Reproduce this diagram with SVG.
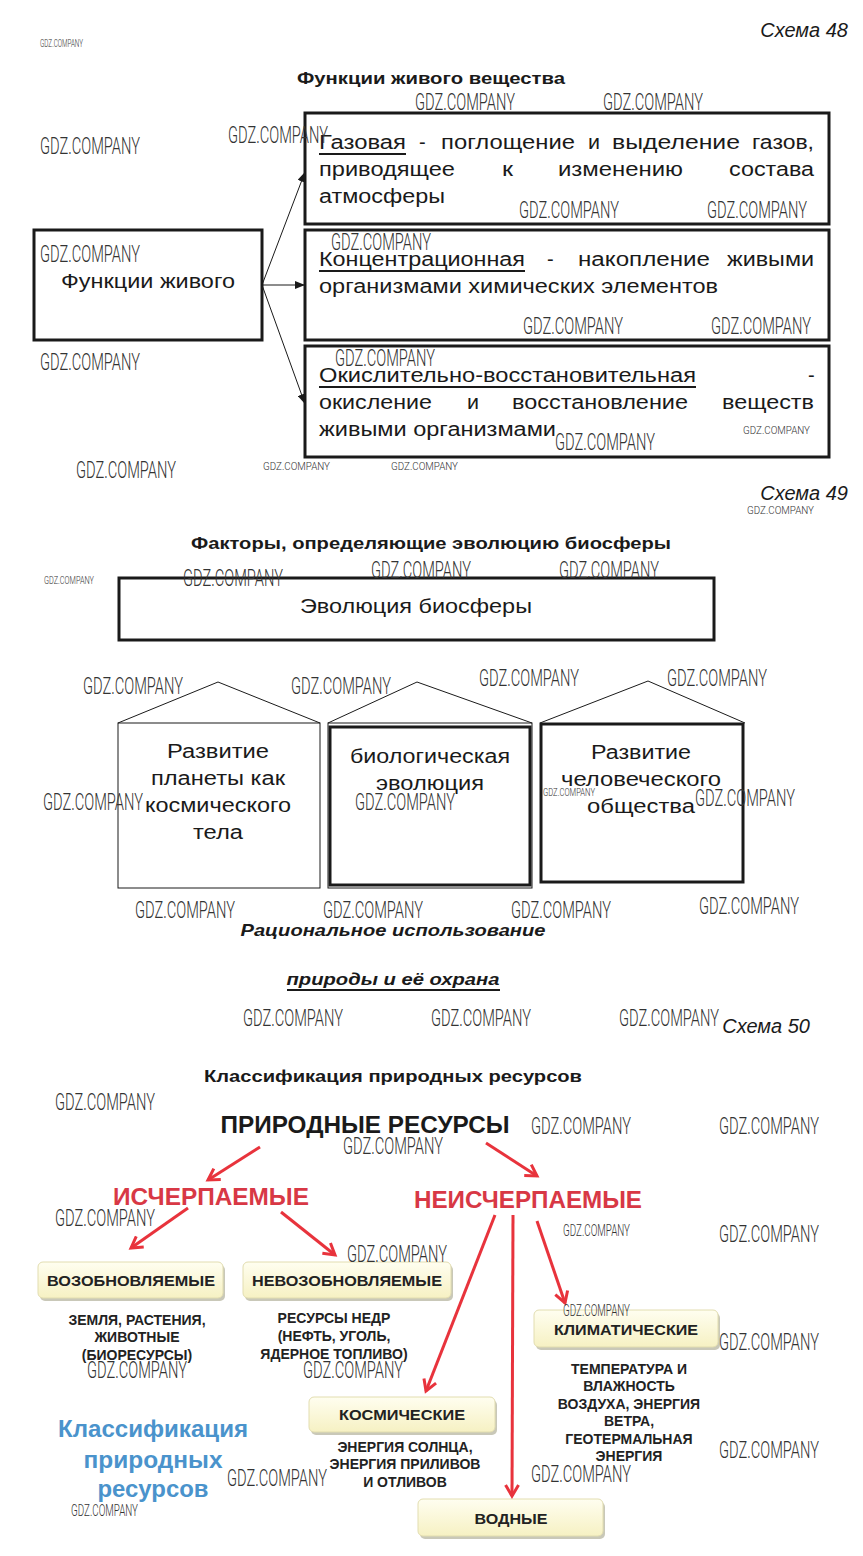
<svg xmlns="http://www.w3.org/2000/svg" width="863" height="1556" viewBox="0 0 863 1556">
<style>
.bg{fill:#fff}
.t{font-family:"Liberation Sans",Arial,sans-serif;fill:#1a1a1a}
.bx{font-size:20px}
.ttl{font-size:17px;font-weight:bold}
.sch{font-size:20px;font-style:italic}
.box{fill:none;stroke:#1a1a1a;stroke-width:3}
.thin{fill:none;stroke:#1a1a1a;stroke-width:1}
.ul{stroke:#1a1a1a;stroke-width:2}
.wm{font-family:Roboto,"Liberation Sans",sans-serif;font-weight:300;fill:#333}
.wl{font-size:24px}
.wm2{font-size:16px}
.ws{font-size:10px}
.red{font-family:"Liberation Sans",Arial,sans-serif;font-weight:bold;font-size:23px;fill:#d83845}
.rl{stroke:#e8333c;stroke-width:3;fill:none}
.yb{fill:url(#yg);stroke:#e2ddb0;stroke-width:1}
.ys{fill:#c9c8b8}
.yt{font-family:"Liberation Sans",Arial,sans-serif;font-weight:bold;font-size:15px;fill:#222}
.dt{font-family:"Liberation Sans",Arial,sans-serif;font-weight:bold;font-size:14px;fill:#222}
.blue{font-family:"Liberation Sans",Arial,sans-serif;font-weight:bold;font-size:23px;fill:#4a93cc}
</style>
<defs>
<marker id="ah" markerWidth="10" markerHeight="8" refX="10" refY="4" orient="auto" markerUnits="userSpaceOnUse"><path d="M0,0 L10,4 L0,8 z" fill="#1a1a1a"/></marker>
<marker id="rh" markerWidth="16" markerHeight="16" refX="13" refY="8" orient="auto" markerUnits="userSpaceOnUse"><path d="M2,1.5 L13,8 L2,14.5" fill="none" stroke="#e8333c" stroke-width="3"/></marker>
<linearGradient id="yg" x1="0" y1="0" x2="0" y2="1"><stop offset="0" stop-color="#fffef0"/><stop offset="1" stop-color="#f6f1c3"/></linearGradient>
</defs>
<rect class="bg" x="0" y="0" width="863" height="1556"/>

<!-- ===== Schema 48 ===== -->
<text class="t sch" x="848" y="37" text-anchor="end">Схема 48</text>
<text class="t ttl" x="431" y="84" text-anchor="middle" textLength="268" lengthAdjust="spacingAndGlyphs">Функции живого вещества</text>

<g id="n-func">
<rect class="box" x="34" y="230" width="228" height="110"/>
<text class="t bx" x="148" y="288" text-anchor="middle" textLength="174" lengthAdjust="spacingAndGlyphs">Функции живого</text>
</g>

<g id="n-gas">
<rect class="box" x="305" y="113" width="524" height="111"/>
<text class="t bx" x="319" y="149" textLength="87" lengthAdjust="spacingAndGlyphs">Газовая</text>
<line class="ul" x1="319" y1="154" x2="406" y2="154"/>
<text class="t bx" x="419" y="149">-</text>
<text class="t bx" x="441" y="149" textLength="134" lengthAdjust="spacingAndGlyphs">поглощение</text>
<text class="t bx" x="588" y="149" textLength="12" lengthAdjust="spacingAndGlyphs">и</text>
<text class="t bx" x="612" y="149" textLength="128" lengthAdjust="spacingAndGlyphs">выделение</text>
<text class="t bx" x="752" y="149" textLength="62" lengthAdjust="spacingAndGlyphs">газов,</text>
<text class="t bx" x="319" y="176" textLength="136" lengthAdjust="spacingAndGlyphs">приводящее</text>
<text class="t bx" x="502" y="176" textLength="11" lengthAdjust="spacingAndGlyphs">к</text>
<text class="t bx" x="558" y="176" textLength="125" lengthAdjust="spacingAndGlyphs">изменению</text>
<text class="t bx" x="729" y="176" textLength="85" lengthAdjust="spacingAndGlyphs">состава</text>
<text class="t bx" x="319" y="203" textLength="126" lengthAdjust="spacingAndGlyphs">атмосферы</text>
</g>

<g id="n-conc">
<rect class="box" x="305" y="230" width="524" height="110"/>
<text class="t bx" x="319" y="266" textLength="206" lengthAdjust="spacingAndGlyphs">Концентрационная</text>
<line class="ul" x1="319" y1="271" x2="525" y2="271"/>
<text class="t bx" x="547" y="266">-</text>
<text class="t bx" x="578" y="266" textLength="132" lengthAdjust="spacingAndGlyphs">накопление</text>
<text class="t bx" x="727" y="266" textLength="87" lengthAdjust="spacingAndGlyphs">живыми</text>
<text class="t bx" x="319" y="293" textLength="399" lengthAdjust="spacingAndGlyphs">организмами химических элементов</text>
</g>

<g id="n-redox">
<rect class="box" x="305" y="346" width="524" height="111"/>
<text class="t bx" x="319" y="382" textLength="377" lengthAdjust="spacingAndGlyphs">Окислительно-восстановительная</text>
<line class="ul" x1="319" y1="387" x2="696" y2="387"/>
<text class="t bx" x="808" y="382">-</text>
<text class="t bx" x="319" y="409" textLength="113" lengthAdjust="spacingAndGlyphs">окисление</text>
<text class="t bx" x="467" y="409" textLength="12" lengthAdjust="spacingAndGlyphs">и</text>
<text class="t bx" x="512" y="409" textLength="176" lengthAdjust="spacingAndGlyphs">восстановление</text>
<text class="t bx" x="722" y="409" textLength="92" lengthAdjust="spacingAndGlyphs">веществ</text>
<text class="t bx" x="319" y="436" textLength="237" lengthAdjust="spacingAndGlyphs">живыми организмами</text>
</g>

<g id="connectors-48">
<line class="thin" x1="262" y1="285" x2="305" y2="172" marker-end="url(#ah)"/>
<line class="thin" x1="262" y1="285" x2="305" y2="285" marker-end="url(#ah)"/>
<line class="thin" x1="262" y1="285" x2="305" y2="404" marker-end="url(#ah)"/>
</g>

<!-- ===== Schema 49 ===== -->
<text class="t sch" x="848" y="500" text-anchor="end">Схема 49</text>
<text class="t ttl" x="431" y="549" text-anchor="middle" textLength="480" lengthAdjust="spacingAndGlyphs">Факторы, определяющие эволюцию биосферы</text>

<g id="n-evol">
<rect class="box" x="119" y="578" width="595" height="62"/>
<text class="t bx" x="416" y="613" text-anchor="middle" textLength="232" lengthAdjust="spacingAndGlyphs">Эволюция биосферы</text>
</g>

<g id="n-planet">
<polyline class="thin" points="118,723 218,682 320,723"/>
<rect class="thin" x="118" y="723" width="202" height="165"/>
<text class="t bx" x="218" y="758" text-anchor="middle" textLength="102" lengthAdjust="spacingAndGlyphs">Развитие</text>
<text class="t bx" x="218" y="785" text-anchor="middle" textLength="134" lengthAdjust="spacingAndGlyphs">планеты как</text>
<text class="t bx" x="218" y="812" text-anchor="middle" textLength="146" lengthAdjust="spacingAndGlyphs">космического</text>
<text class="t bx" x="218" y="839" text-anchor="middle" textLength="50" lengthAdjust="spacingAndGlyphs">тела</text>
</g>

<g id="n-bio">
<polyline class="thin" points="328,723 417,682 532,723"/>
<rect class="thin" x="328" y="723" width="204" height="165"/>
<rect class="box" x="330" y="727" width="200" height="158"/>
<text class="t bx" x="430" y="763" text-anchor="middle" textLength="160" lengthAdjust="spacingAndGlyphs">биологическая</text>
<text class="t bx" x="430" y="790" text-anchor="middle" textLength="108" lengthAdjust="spacingAndGlyphs">эволюция</text>
</g>

<g id="n-human">
<polyline class="thin" points="540,723 648,681 745,723"/>
<rect class="box" x="541" y="724" width="202" height="158"/>
<text class="t bx" x="641" y="759" text-anchor="middle" textLength="100" lengthAdjust="spacingAndGlyphs">Развитие</text>
<text class="t bx" x="641" y="786" text-anchor="middle" textLength="160" lengthAdjust="spacingAndGlyphs">человеческого</text>
<text class="t bx" x="641" y="813" text-anchor="middle" textLength="108" lengthAdjust="spacingAndGlyphs">общества</text>
</g>

<text class="t ttl" x="393" y="936" text-anchor="middle" font-style="italic" textLength="305" lengthAdjust="spacingAndGlyphs">Рациональное использование</text>
<text class="t ttl" x="393" y="985" text-anchor="middle" font-style="italic" textLength="213" lengthAdjust="spacingAndGlyphs">природы и её охрана</text>
<line class="ul" x1="287" y1="990" x2="500" y2="990"/>

<!-- ===== Schema 50 ===== -->
<text class="t sch" x="810" y="1033" text-anchor="end">Схема 50</text>
<text class="t ttl" x="393" y="1082" text-anchor="middle" textLength="378" lengthAdjust="spacingAndGlyphs">Классификация природных ресурсов</text>

<g id="n-res">
<text class="t" x="365" y="1133" text-anchor="middle" font-weight="bold" font-size="23" fill="#222" textLength="289" lengthAdjust="spacingAndGlyphs">ПРИРОДНЫЕ РЕСУРСЫ</text>
</g>
<g id="n-exh">
<text class="red" x="211" y="1205" text-anchor="middle" textLength="196" lengthAdjust="spacingAndGlyphs">ИСЧЕРПАЕМЫЕ</text>
</g>
<g id="n-inexh">
<text class="red" x="528" y="1208" text-anchor="middle" textLength="228" lengthAdjust="spacingAndGlyphs">НЕИСЧЕРПАЕМЫЕ</text>
</g>

<g id="n-renew">
<rect class="ys" x="40" y="1265" width="185" height="36" rx="5"/>
<rect class="yb" x="38" y="1262" width="185" height="36" rx="5"/>
<text class="yt" x="131" y="1286" text-anchor="middle" textLength="168" lengthAdjust="spacingAndGlyphs">ВОЗОБНОВЛЯЕМЫЕ</text>
<text class="dt" x="137" y="1325" text-anchor="middle">ЗЕМЛЯ, РАСТЕНИЯ,</text>
<text class="dt" x="137" y="1342" text-anchor="middle">ЖИВОТНЫЕ</text>
<text class="dt" x="137" y="1360" text-anchor="middle">(БИОРЕСУРСЫ)</text>
</g>

<g id="n-nonrenew">
<rect class="ys" x="245" y="1265" width="208" height="36" rx="5"/>
<rect class="yb" x="243" y="1262" width="208" height="36" rx="5"/>
<text class="yt" x="347" y="1286" text-anchor="middle" textLength="190" lengthAdjust="spacingAndGlyphs">НЕВОЗОБНОВЛЯЕМЫЕ</text>
<text class="dt" x="334" y="1323" text-anchor="middle">РЕСУРСЫ НЕДР</text>
<text class="dt" x="334" y="1341" text-anchor="middle">(НЕФТЬ, УГОЛЬ,</text>
<text class="dt" x="334" y="1359" text-anchor="middle">ЯДЕРНОЕ ТОПЛИВО)</text>
</g>

<g id="n-clim">
<rect class="ys" x="536" y="1313" width="184" height="37" rx="5"/>
<rect class="yb" x="534" y="1310" width="184" height="37" rx="5"/>
<text class="yt" x="626" y="1335" text-anchor="middle" textLength="144" lengthAdjust="spacingAndGlyphs">КЛИМАТИЧЕСКИЕ</text>
<text class="dt" x="629" y="1374" text-anchor="middle">ТЕМПЕРАТУРА И</text>
<text class="dt" x="629" y="1391" text-anchor="middle">ВЛАЖНОСТЬ</text>
<text class="dt" x="629" y="1409" text-anchor="middle">ВОЗДУХА, ЭНЕРГИЯ</text>
<text class="dt" x="629" y="1426" text-anchor="middle">ВЕТРА,</text>
<text class="dt" x="629" y="1444" text-anchor="middle">ГЕОТЕРМАЛЬНАЯ</text>
<text class="dt" x="629" y="1461" text-anchor="middle">ЭНЕРГИЯ</text>
</g>

<g id="n-cosm">
<rect class="ys" x="311" y="1400" width="186" height="35" rx="5"/>
<rect class="yb" x="309" y="1397" width="186" height="35" rx="5"/>
<text class="yt" x="402" y="1420" text-anchor="middle" textLength="126" lengthAdjust="spacingAndGlyphs">КОСМИЧЕСКИЕ</text>
<text class="dt" x="405" y="1452" text-anchor="middle">ЭНЕРГИЯ СОЛНЦА,</text>
<text class="dt" x="405" y="1469" text-anchor="middle">ЭНЕРГИЯ ПРИЛИВОВ</text>
<text class="dt" x="405" y="1487" text-anchor="middle">И ОТЛИВОВ</text>
</g>

<g id="n-water">
<rect class="ys" x="420" y="1502" width="185" height="37" rx="5"/>
<rect class="yb" x="418" y="1499" width="185" height="37" rx="5"/>
<text class="yt" x="511" y="1524" text-anchor="middle" textLength="73" lengthAdjust="spacingAndGlyphs">ВОДНЫЕ</text>
</g>

<g id="n-blue">
<text class="blue" x="153" y="1437" text-anchor="middle" textLength="190" lengthAdjust="spacingAndGlyphs">Классификация</text>
<text class="blue" x="153" y="1468" text-anchor="middle" textLength="139" lengthAdjust="spacingAndGlyphs">природных</text>
<text class="blue" x="153" y="1497" text-anchor="middle" textLength="111" lengthAdjust="spacingAndGlyphs">ресурсов</text>
</g>

<g id="connectors-50">
<line class="rl" x1="260" y1="1147" x2="208" y2="1180" marker-end="url(#rh)"/>
<line class="rl" x1="486" y1="1143" x2="537" y2="1176" marker-end="url(#rh)"/>
<line class="rl" x1="188" y1="1208" x2="131" y2="1248" marker-end="url(#rh)"/>
<line class="rl" x1="281" y1="1212" x2="335" y2="1255" marker-end="url(#rh)"/>
<line class="rl" x1="495" y1="1215" x2="426" y2="1391" marker-end="url(#rh)"/>
<line class="rl" x1="513" y1="1215" x2="512" y2="1496" marker-end="url(#rh)"/>
<line class="rl" x1="537" y1="1221" x2="565" y2="1303" marker-end="url(#rh)"/>
</g>

<!-- ===== watermarks ===== -->
<g id="watermarks">
<text class="wm ws" x="40" y="47" textLength="43" lengthAdjust="spacingAndGlyphs">GDZ.COMPANY</text>
<text class="wm wl" x="415" y="110" textLength="100" lengthAdjust="spacingAndGlyphs">GDZ.COMPANY</text>
<text class="wm wl" x="603" y="110" textLength="100" lengthAdjust="spacingAndGlyphs">GDZ.COMPANY</text>
<text class="wm wl" x="40" y="154" textLength="100" lengthAdjust="spacingAndGlyphs">GDZ.COMPANY</text>
<text class="wm wl" x="228" y="143" textLength="100" lengthAdjust="spacingAndGlyphs">GDZ.COMPANY</text>
<text class="wm wl" x="519" y="218" textLength="100" lengthAdjust="spacingAndGlyphs">GDZ.COMPANY</text>
<text class="wm wl" x="707" y="218" textLength="100" lengthAdjust="spacingAndGlyphs">GDZ.COMPANY</text>
<text class="wm wl" x="40" y="262" textLength="100" lengthAdjust="spacingAndGlyphs">GDZ.COMPANY</text>
<text class="wm wl" x="331" y="250" textLength="100" lengthAdjust="spacingAndGlyphs">GDZ.COMPANY</text>
<text class="wm wl" x="523" y="334" textLength="100" lengthAdjust="spacingAndGlyphs">GDZ.COMPANY</text>
<text class="wm wl" x="711" y="334" textLength="100" lengthAdjust="spacingAndGlyphs">GDZ.COMPANY</text>
<text class="wm wl" x="40" y="370" textLength="100" lengthAdjust="spacingAndGlyphs">GDZ.COMPANY</text>
<text class="wm wl" x="335" y="366" textLength="100" lengthAdjust="spacingAndGlyphs">GDZ.COMPANY</text>
<text class="wm wl" x="555" y="450" textLength="100" lengthAdjust="spacingAndGlyphs">GDZ.COMPANY</text>
<text class="wm ws" x="743" y="434" textLength="67" lengthAdjust="spacingAndGlyphs">GDZ.COMPANY</text>
<text class="wm wl" x="76" y="478" textLength="100" lengthAdjust="spacingAndGlyphs">GDZ.COMPANY</text>
<text class="wm ws" x="263" y="470" textLength="67" lengthAdjust="spacingAndGlyphs">GDZ.COMPANY</text>
<text class="wm ws" x="391" y="470" textLength="67" lengthAdjust="spacingAndGlyphs">GDZ.COMPANY</text>
<text class="wm ws" x="747" y="514" textLength="67" lengthAdjust="spacingAndGlyphs">GDZ.COMPANY</text>
<text class="wm ws" x="44" y="584" textLength="50" lengthAdjust="spacingAndGlyphs">GDZ.COMPANY</text>
<text class="wm wl" x="183" y="586" textLength="100" lengthAdjust="spacingAndGlyphs">GDZ.COMPANY</text>
<text class="wm wl" x="371" y="578" textLength="100" lengthAdjust="spacingAndGlyphs">GDZ.COMPANY</text>
<text class="wm wl" x="559" y="578" textLength="100" lengthAdjust="spacingAndGlyphs">GDZ.COMPANY</text>
<text class="wm wl" x="83" y="694" textLength="100" lengthAdjust="spacingAndGlyphs">GDZ.COMPANY</text>
<text class="wm wl" x="291" y="694" textLength="100" lengthAdjust="spacingAndGlyphs">GDZ.COMPANY</text>
<text class="wm wl" x="479" y="686" textLength="100" lengthAdjust="spacingAndGlyphs">GDZ.COMPANY</text>
<text class="wm wl" x="667" y="686" textLength="100" lengthAdjust="spacingAndGlyphs">GDZ.COMPANY</text>
<text class="wm wl" x="43" y="810" textLength="100" lengthAdjust="spacingAndGlyphs">GDZ.COMPANY</text>
<text class="wm wl" x="355" y="810" textLength="100" lengthAdjust="spacingAndGlyphs">GDZ.COMPANY</text>
<text class="wm ws" x="543" y="796" textLength="52" lengthAdjust="spacingAndGlyphs">GDZ.COMPANY</text>
<text class="wm wl" x="695" y="806" textLength="100" lengthAdjust="spacingAndGlyphs">GDZ.COMPANY</text>
<text class="wm wl" x="135" y="918" textLength="100" lengthAdjust="spacingAndGlyphs">GDZ.COMPANY</text>
<text class="wm wl" x="323" y="918" textLength="100" lengthAdjust="spacingAndGlyphs">GDZ.COMPANY</text>
<text class="wm wl" x="511" y="918" textLength="100" lengthAdjust="spacingAndGlyphs">GDZ.COMPANY</text>
<text class="wm wl" x="699" y="914" textLength="100" lengthAdjust="spacingAndGlyphs">GDZ.COMPANY</text>
<text class="wm wl" x="243" y="1026" textLength="100" lengthAdjust="spacingAndGlyphs">GDZ.COMPANY</text>
<text class="wm wl" x="431" y="1026" textLength="100" lengthAdjust="spacingAndGlyphs">GDZ.COMPANY</text>
<text class="wm wl" x="619" y="1026" textLength="100" lengthAdjust="spacingAndGlyphs">GDZ.COMPANY</text>
<text class="wm wl" x="55" y="1110" textLength="100" lengthAdjust="spacingAndGlyphs">GDZ.COMPANY</text>
<text class="wm wl" x="531" y="1134" textLength="100" lengthAdjust="spacingAndGlyphs">GDZ.COMPANY</text>
<text class="wm wl" x="719" y="1134" textLength="100" lengthAdjust="spacingAndGlyphs">GDZ.COMPANY</text>
<text class="wm wl" x="343" y="1154" textLength="100" lengthAdjust="spacingAndGlyphs">GDZ.COMPANY</text>
<text class="wm wl" x="55" y="1226" textLength="100" lengthAdjust="spacingAndGlyphs">GDZ.COMPANY</text>
<text class="wm wm2" x="563" y="1236" textLength="67" lengthAdjust="spacingAndGlyphs">GDZ.COMPANY</text>
<text class="wm wl" x="719" y="1242" textLength="100" lengthAdjust="spacingAndGlyphs">GDZ.COMPANY</text>
<text class="wm wl" x="347" y="1262" textLength="100" lengthAdjust="spacingAndGlyphs">GDZ.COMPANY</text>
<text class="wm wm2" x="563" y="1316" textLength="67" lengthAdjust="spacingAndGlyphs">GDZ.COMPANY</text>
<text class="wm wl" x="719" y="1350" textLength="100" lengthAdjust="spacingAndGlyphs">GDZ.COMPANY</text>
<text class="wm wl" x="87" y="1378" textLength="100" lengthAdjust="spacingAndGlyphs">GDZ.COMPANY</text>
<text class="wm wl" x="303" y="1378" textLength="100" lengthAdjust="spacingAndGlyphs">GDZ.COMPANY</text>
<text class="wm wl" x="719" y="1458" textLength="100" lengthAdjust="spacingAndGlyphs">GDZ.COMPANY</text>
<text class="wm wl" x="227" y="1486" textLength="100" lengthAdjust="spacingAndGlyphs">GDZ.COMPANY</text>
<text class="wm wl" x="531" y="1482" textLength="100" lengthAdjust="spacingAndGlyphs">GDZ.COMPANY</text>
<text class="wm wm2" x="71" y="1516" textLength="67" lengthAdjust="spacingAndGlyphs">GDZ.COMPANY</text>
</g>
</svg>
